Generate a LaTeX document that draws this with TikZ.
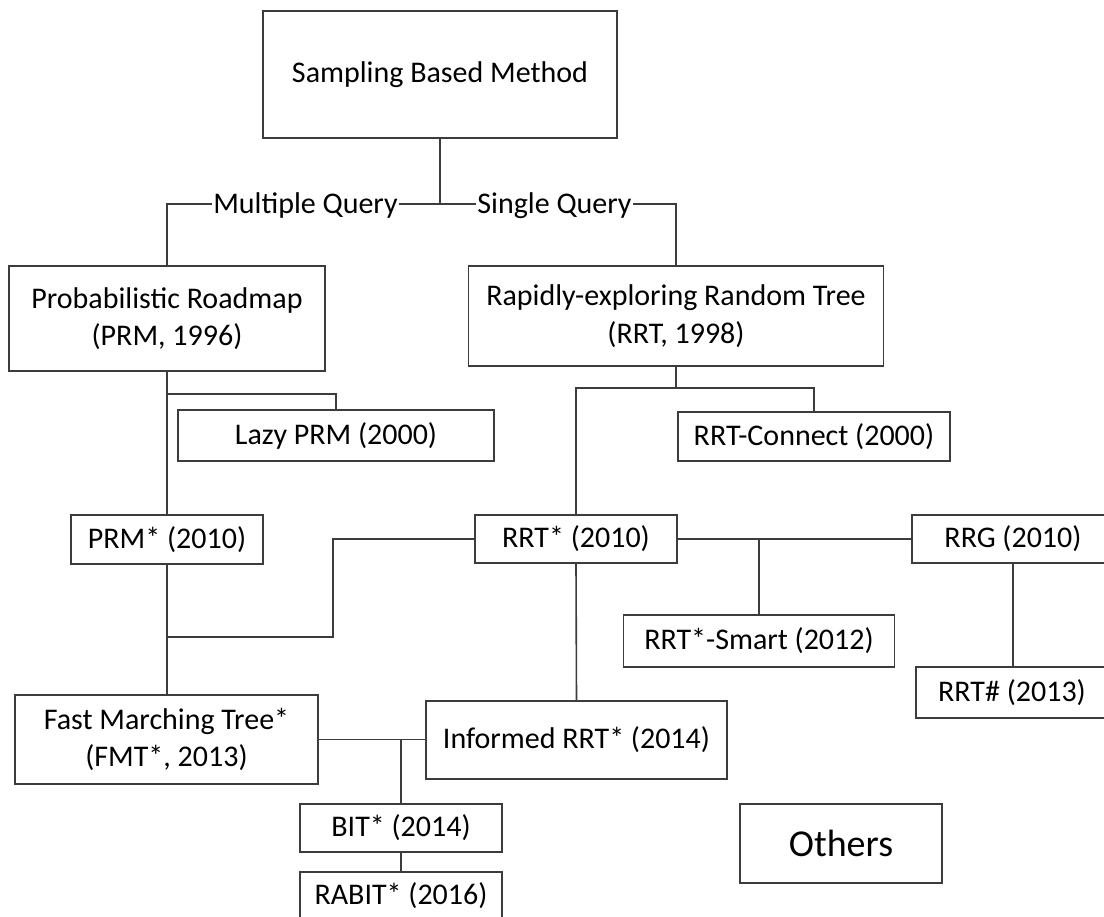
\documentclass[tikz,border=0pt]{standalone}
\usepackage{fontspec}
\setmainfont{Carlito}
\definecolor{lc}{RGB}{60,60,60}
\begin{document}
\begin{tikzpicture}[x=1pt,y=-1pt,
  box/.style={draw=lc, line width=1.6pt, inner sep=0pt, align=center,
    font=\fontsize{30}{37.5}\selectfont},
  conn/.style={draw=lc, line width=1.6pt},
  lbl/.style={inner xsep=1.5pt, inner ysep=0pt, anchor=base,
    font=\fontsize{30}{36}\selectfont}]
\useasboundingbox (0,0) rectangle (1104,917);
\fill[white] (0,0) rectangle (1104,917);

% boxes
\node[box, minimum width=354pt, minimum height=127pt] (sbm) at (440,74.5) {Sampling Based Method};
\node[box, minimum width=316pt, minimum height=105pt] (prm) at (167,318.5) {Probabilistic Roadmap\\(PRM, 1996)};
\node[box, minimum width=415pt, minimum height=100pt] (rrt) at (676,316) {Rapidly-exploring Random Tree\\(RRT, 1998)};
\node[box, minimum width=316pt, minimum height=51pt] (lazy) at (336,435.5) {Lazy PRM (2000)};
\node[box, minimum width=272pt, minimum height=49pt] (rrtc) at (814,436.5) {RRT-Connect (2000)};
\node[box, minimum width=192pt, minimum height=49pt] (prms) at (167,539.5) {PRM* (2010)};
\node[box, minimum width=202pt, minimum height=48pt] (rrts) at (576,539) {RRT* (2010)};
\node[box, minimum width=202pt, minimum height=48pt] (rrg) at (1013,539) {RRG (2010)};
\node[box, minimum width=271pt, minimum height=52pt] (smart) at (759,641) {RRT*-Smart (2012)};
\node[box, minimum width=192pt, minimum height=51pt] (rrth) at (1012,692.5) {RRT\# (2013)};
\node[box, minimum width=303pt, minimum height=89pt] (fmt) at (166.5,739.5) {Fast Marching Tree*\\(FMT*, 2013)};
\node[box, minimum width=301pt, minimum height=78pt] (inf) at (576.5,740) {Informed RRT* (2014)};
\node[box, minimum width=202pt, minimum height=48pt] (bit) at (401,828) {BIT* (2014)};
\node[box, minimum width=202pt, minimum height=48pt] (rabit) at (401,896) {RABIT* (2016)};
\node[box, minimum width=202pt, minimum height=79pt, font=\fontsize{38}{44}\selectfont] (others) at (841,843.5) {Others};

% labels on the split
\node[lbl] (mq) at (305.5,213.7) {Multiple Query};
\node[lbl] (sq) at (554.5,213.7) {Single Query};

% junction points
\coordinate (j0) at (440,204);
\coordinate (jl) at (167,394);
\coordinate (jr) at (676,388);
\coordinate (jf) at (167,637);
\coordinate (k1) at (333,539);
\coordinate (js) at (759,539);
\coordinate (jb) at (401,740);

% connectors
\draw[conn] (sbm.south) -- (j0);
\draw[conn] (prm.north) |- (mq.west |- j0);
\draw[conn] (mq.east |- j0) -- (sq.west |- j0);
\draw[conn] (sq.east |- j0) -| (rrt.north);

\draw[conn] (prm.south) -- (prms.north);
\draw[conn] (jl) -| (lazy.north);
\draw[conn] (prms.south) -- (prms.south |- fmt.north);
\draw[conn] (rrts.west) -- (k1) |- (jf);

\draw[conn] (rrt.south) -- (jr);
\draw[conn] (rrts.north) |- (jr) -| (rrtc.north);
\draw[conn] (rrts.south) -- (inf.north);
\draw[conn] (rrts.east) -- (rrg.west);
\draw[conn] (js) -- (smart.north);
\draw[conn] (rrg.south) -- (rrg.south |- rrth.north);

\draw[conn] (fmt.east) -- (fmt.east -| inf.west);
\draw[conn] (jb) -- (bit.north);
\draw[conn] (bit.south) -- (rabit.north);
\end{tikzpicture}
\end{document}
